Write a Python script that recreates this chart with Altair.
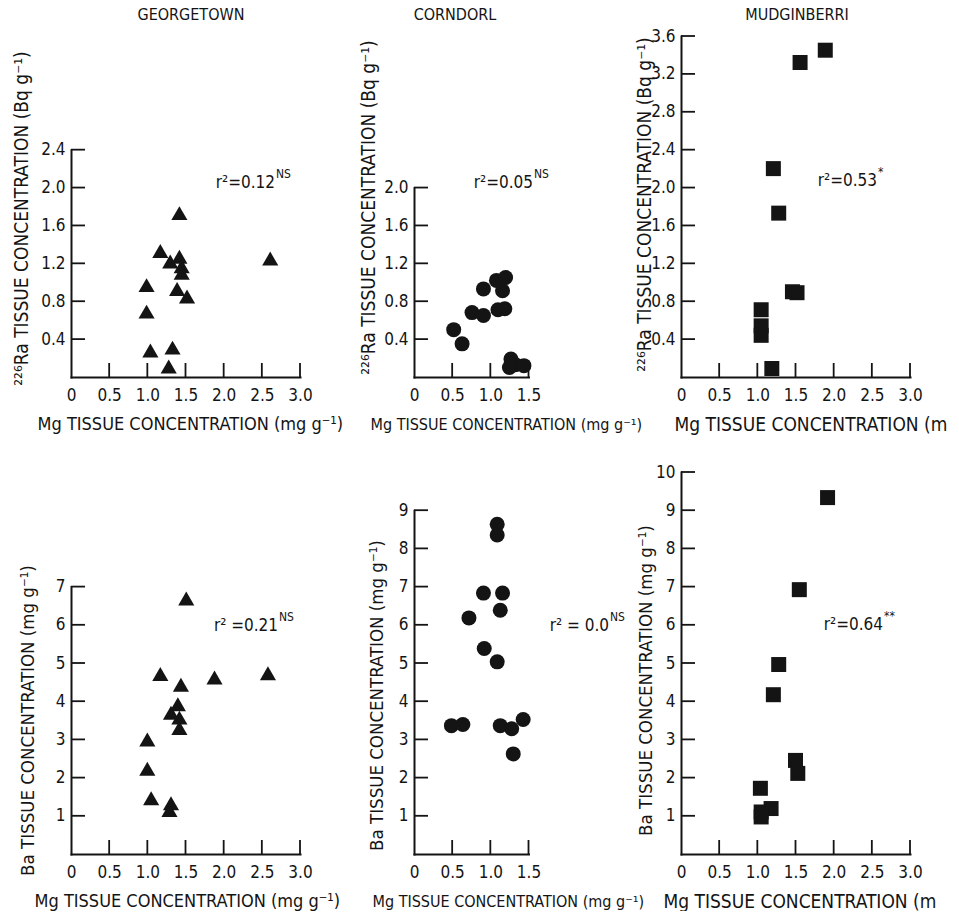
import altair as alt
import pandas as pd

FONT = "DejaVu Sans Condensed"
INK = "#141414"

# ---- site names (column headings) ----
site_names = ["GEORGETOWN", "CORNDORL", "MUDGINBERRI"]

# ---- 226Ra tissue concentration (Bq/g) vs Mg tissue concentration (mg/g) ----
geo_ra_mg = [1.42, 1.17, 1.30, 1.42, 1.45, 1.45, 2.61, 0.99, 0.99, 1.39, 1.52, 1.04, 1.33, 1.28]
geo_ra = [1.73, 1.33, 1.22, 1.27, 1.17, 1.10, 1.25, 0.97, 0.69, 0.93, 0.85, 0.28, 0.31, 0.11]

cor_ra_mg = [0.52, 0.63, 0.76, 0.91, 0.91, 1.08, 1.20, 1.16, 1.10, 1.19, 1.27, 1.33, 1.44, 1.25]
cor_ra = [0.50, 0.35, 0.68, 0.65, 0.93, 1.02, 1.05, 0.91, 0.71, 0.72, 0.19, 0.13, 0.12, 0.10]

mud_ra_mg = [1.89, 1.56, 1.21, 1.28, 1.46, 1.52, 1.05, 1.05, 1.05, 1.19]
mud_ra = [3.45, 3.32, 2.20, 1.73, 0.90, 0.89, 0.71, 0.54, 0.44, 0.09]

# ---- Ba tissue concentration (mg/g) vs Mg tissue concentration (mg/g) ----
geo_ba_mg = [1.51, 1.17, 1.88, 2.58, 1.44, 1.40, 1.31, 1.42, 1.42, 1.00, 1.00, 1.05, 1.31, 1.29]
geo_ba = [6.69, 4.71, 4.62, 4.73, 4.43, 3.92, 3.70, 3.57, 3.30, 3.00, 2.23, 1.46, 1.33, 1.15]

cor_ba_mg = [1.09, 1.09, 0.91, 1.16, 1.13, 0.72, 0.92, 1.09, 0.49, 0.64, 1.13, 1.28, 1.43, 1.30]
cor_ba = [8.63, 8.35, 6.83, 6.83, 6.38, 6.18, 5.38, 5.03, 3.36, 3.39, 3.36, 3.28, 3.52, 2.62]

mud_ba_mg = [1.92, 1.55, 1.28, 1.21, 1.50, 1.53, 1.04, 1.18, 1.05, 1.05]
mud_ba = [9.33, 6.92, 4.96, 4.17, 2.45, 2.11, 1.72, 1.19, 1.10, 0.97]

# ---- regression statistics ----
r2_text = ["r²=0.12", "r²=0.05", "r²=0.53", "r² =0.21", "r² = 0.0", "r²=0.64"]
r2_sig = ["NS", "NS", "*", "NS", "NS", "**"]

# ---- axis ticks ----
mg_ticks_wide = [0.5, 1.0, 1.5, 2.0, 2.5, 3.0]
mg_ticks_narrow = [0.5, 1.0, 1.5]
ra_ticks = {
    "geo": [0.4, 0.8, 1.2, 1.6, 2.0, 2.4],
    "cor": [0.4, 0.8, 1.2, 1.6, 2.0],
    "mud": [0.4, 0.8, 1.2, 1.6, 2.0, 2.4, 2.8, 3.2, 3.6],
}
ba_ticks = {
    "geo": [1, 2, 3, 4, 5, 6, 7],
    "cor": [1, 2, 3, 4, 5, 6, 7, 8, 9],
    "mud": [1, 2, 3, 4, 5, 6, 7, 8, 9, 10],
}

RA_TITLE = "²²⁶Ra TISSUE CONCENTRATION (Bq g⁻¹)"
BA_TITLE = "Ba TISSUE CONCENTRATION (mg g⁻¹)"
MG_TITLE = "Mg TISSUE CONCENTRATION (mg g⁻¹)"
MG_TITLE_EDGE = "Mg TISSUE CONCENTRATION (m"

TICK_LEN = 14
TICK_SIZE = TICK_LEN ** 2      # symbol area giving a stroke of TICK_LEN pixels
PX_PER_MG = 229 / 3.0          # horizontal pixels per mg/g, same in every panel
H_TOP, H_BOT = 341, 382
PX_PER_RA = H_TOP / 3.6        # vertical pixels per Bq/g (top row)
PX_PER_BA = H_BOT / 10.0       # vertical pixels per mg/g of Ba (bottom row)
W_WIDE, W_NARROW = 229, 153
TRI, CIRC, SQ = 260, 225, 225

# inward tick strokes drawn as one-sided line symbols
UP_STROKE = "M0,0L0,-2"
RIGHT_STROKE = "M0,0L2,0"


def panel(mg, val, shape, size, width, height, px_x, px_y, x_ticks, y_ticks,
          y_fmt, y_title, y_title_size, y_title_x, y_title_y,
          x_title, x_title_size, x_title_x,
          r2, sig, r2_x, r2_y, heading=None, heading_x=0):
    x_top, y_top = x_ticks[-1], y_ticks[-1]
    # axes are drawn only over the labelled range of each variable
    xs = alt.Scale(domain=[0, x_top], range=[0, x_top * px_x], nice=False, zero=False)
    ys = alt.Scale(domain=[0, y_top], range=[height, height - y_top * px_y],
                   nice=False, zero=False)

    # top-oriented axis moved onto the bottom edge, labels pushed below it
    x_axis = alt.Axis(
        orient="top", offset=-height,
        values=[0] + x_ticks,
        labelExpr="datum.value == 0 ? '0' : format(datum.value, '.1f')",
        domain=True, domainColor=INK, domainWidth=2, domainCap="square",
        ticks=False, grid=False, labelFlush=False, labelOverlap=False,
        labelBaseline="top", labelPadding=-10,
        title=x_title, titleFontSize=x_title_size,
        titleX=x_title_x, titleY=47,
        titleAlign="left", titleBaseline="middle", titleAngle=0,
    )
    # right-oriented axis moved onto the left edge, labels to its left
    y_axis = alt.Axis(
        orient="right", offset=-width,
        values=y_ticks, format=y_fmt,
        domain=True, domainColor=INK, domainWidth=2, domainCap="square",
        ticks=False, grid=False, labelFlush=False, labelOverlap=False,
        labelAlign="right", labelBaseline="middle", labelPadding=-6,
        title=y_title, titleFontSize=y_title_size,
        titleX=y_title_x, titleY=y_title_y,
        titleAngle=270, titleAlign="center", titleBaseline="middle",
    )

    # samples plus the tick positions of both axes, in one table
    table = pd.concat([
        pd.DataFrame({"mg": mg, "val": val, "kind": "pt"}),
        pd.DataFrame({"mg": x_ticks, "val": 0.0, "kind": "xt"}),
        pd.DataFrame({"mg": 0.0, "val": y_ticks, "kind": "yt"}),
    ], ignore_index=True)

    pts = alt.Chart(table).mark_point(
        filled=True, fill=INK, stroke=INK, opacity=1
    ).encode(
        x=alt.X("mg:Q", scale=xs, axis=x_axis),
        y=alt.Y("val:Q", scale=ys, axis=y_axis),
        shape={"condition": [
            {"test": "datum.kind === 'xt'", "value": UP_STROKE},
            {"test": "datum.kind === 'yt'", "value": RIGHT_STROKE},
        ], "value": shape},
        size={"condition": {"test": "datum.kind === 'pt'", "value": size},
              "value": TICK_SIZE},
        strokeWidth={"condition": {"test": "datum.kind === 'pt'", "value": 0},
                     "value": 1.8},
    )

    stat = alt.Chart(pd.DataFrame({"s": [r2]})).mark_text(
        font=FONT, fontSize=17, color=INK, align="right", baseline="middle"
    ).encode(text="s:N", x=alt.value(r2_x), y=alt.value(r2_y))
    stat_sig = alt.Chart(pd.DataFrame({"s": [sig]})).mark_text(
        font=FONT, fontSize=12, color=INK, align="left", baseline="middle"
    ).encode(text="s:N", x=alt.value(r2_x + 1), y=alt.value(r2_y - 9))

    layers = [pts, stat, stat_sig]

    if heading is not None:
        head = alt.Chart(pd.DataFrame({"s": [heading]})).mark_text(
            font=FONT, fontSize=16, color=INK, align="center", baseline="middle"
        ).encode(text="s:N", x=alt.value(heading_x), y=alt.value(-21))
        layers.append(head)

    return alt.layer(*layers).properties(width=width, height=height)


p1 = panel(geo_ra_mg, geo_ra, "triangle-up", TRI, W_WIDE, H_TOP, PX_PER_MG, PX_PER_RA,
           mg_ticks_wide, ra_ticks["geo"], ".1f", RA_TITLE, 19, -50, 182,
           MG_TITLE, 18, -34, r2_text[0], r2_sig[0], 204, 147,
           heading=site_names[0], heading_x=120)
p2 = panel(cor_ra_mg, cor_ra, "circle", CIRC, W_NARROW, H_TOP, PX_PER_MG, PX_PER_RA,
           mg_ticks_narrow, ra_ticks["cor"], ".1f", RA_TITLE, 19, -46, 171,
           MG_TITLE, 16, -44, r2_text[1], r2_sig[1], 119, 147,
           heading=site_names[1], heading_x=41)
p3 = panel(mud_ra_mg, mud_ra, "square", SQ, W_WIDE, H_TOP, PX_PER_MG, PX_PER_RA,
           mg_ticks_wide, ra_ticks["mud"], ".1f", RA_TITLE, 19, -37, 168,
           MG_TITLE_EDGE, 19, -7, r2_text[2], r2_sig[2], 196, 145,
           heading=site_names[2], heading_x=116)
p4 = panel(geo_ba_mg, geo_ba, "triangle-up", TRI, W_WIDE, H_BOT, PX_PER_MG, PX_PER_BA,
           mg_ticks_wide, ba_ticks["geo"], "d", BA_TITLE, 18.5, -44, 248,
           MG_TITLE, 18, -37, r2_text[3], r2_sig[3], 207, 154)
p5 = panel(cor_ba_mg, cor_ba, "circle", CIRC, W_NARROW, H_BOT, PX_PER_MG, PX_PER_BA,
           mg_ticks_narrow, ba_ticks["cor"], "d", BA_TITLE, 18.5, -38, 223,
           MG_TITLE, 16, -42, r2_text[4], r2_sig[4], 195, 154)
p6 = panel(mud_ba_mg, mud_ba, "square", SQ, W_WIDE, H_BOT, PX_PER_MG, PX_PER_BA,
           mg_ticks_wide, ba_ticks["mud"], "d", BA_TITLE, 18.5, -36, 208,
           MG_TITLE_EDGE, 19, -18, r2_text[5], r2_sig[5], 202, 153)

chart = alt.concat(
    p1, p2, p3, p4, p5, p6,
    columns=3,
    spacing={"row": 95, "column": 114},
    bounds="flush",
    align="each",
    padding={"left": 11, "top": 7, "right": 0, "bottom": 0},
).configure_view(
    stroke=None
).configure_axis(
    labelFont=FONT, titleFont=FONT, labelFontSize=17,
    labelColor=INK, titleColor=INK, titleFontWeight="normal",
)

chart.save("out.html", embed_options={"renderer": "svg", "actions": False})
